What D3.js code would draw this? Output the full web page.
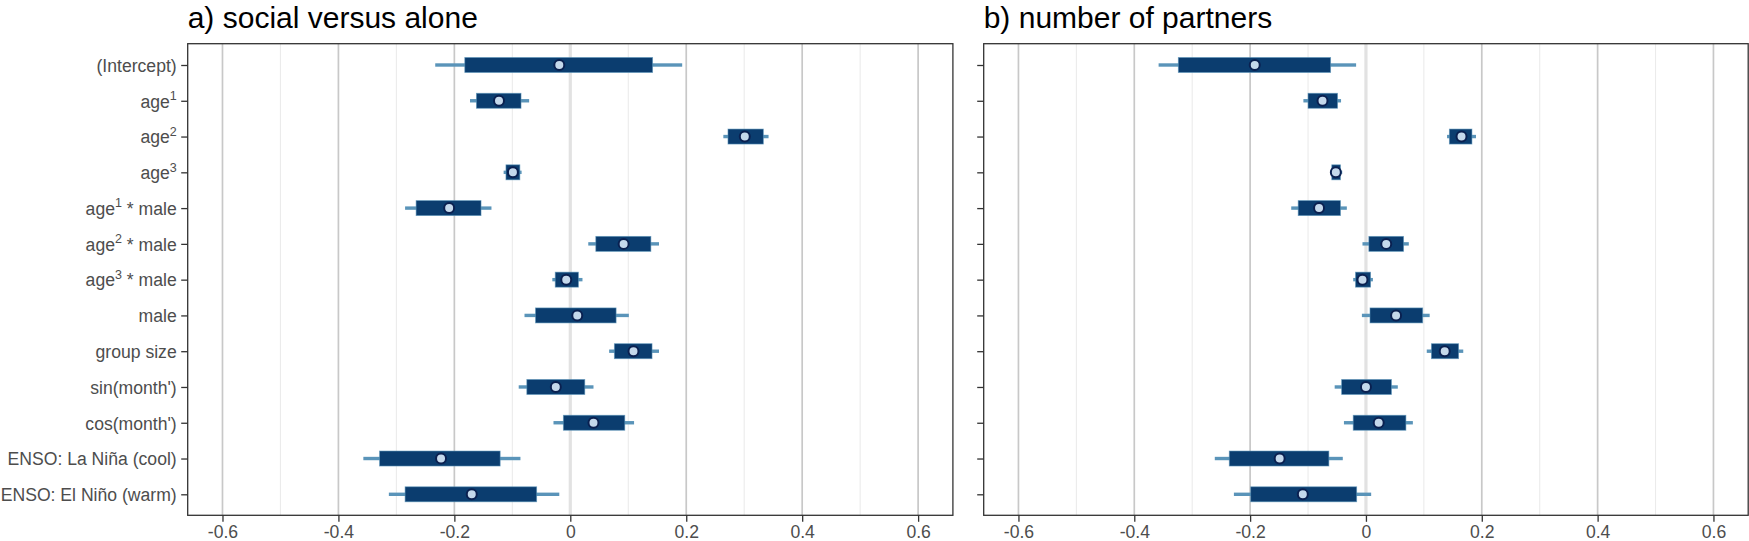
<!DOCTYPE html>
<html>
<head>
<meta charset="utf-8">
<script src="https://cdn.jsdelivr.net/npm/d3@7"></script>
<style>
  html, body { margin: 0; padding: 0; background: #fff; }
  svg { display: block; font-family: "Liberation Sans", Arial, Helvetica, sans-serif; }
</style>
</head>
<body>
<svg id="chart" width="1749" height="541"></svg>
<script>
// ---------- data ----------
const categories = ["(Intercept)", "age^1", "age^2", "age^3", "age^1 * male", "age^2 * male", "age^3 * male",
  "male", "group size", "sin(month')", "cos(month')", "ENSO: La Niña (cool)", "ENSO: El Niño (warm)"];

const panelTitles = ["a) social versus alone", "b) number of partners"];

// panel a: social versus alone
const aPoint   = [-0.019, -0.123, 0.301, -0.099, -0.209, 0.092, -0.007, 0.012, 0.109, -0.025, 0.040, -0.223, -0.170];
const aThickLo = [-0.182, -0.162, 0.272, -0.111, -0.266, 0.044, -0.026, -0.060, 0.076, -0.075, -0.012, -0.329, -0.285];
const aThickHi = [ 0.142, -0.085, 0.333, -0.087, -0.154, 0.139, 0.014, 0.079, 0.141, 0.025, 0.094, -0.121, -0.058];
const aThinLo  = [-0.233, -0.173, 0.264, -0.115, -0.285, 0.031, -0.031, -0.079, 0.067, -0.089, -0.029, -0.357, -0.313];
const aThinHi  = [ 0.193, -0.071, 0.342, -0.084, -0.136, 0.153, 0.021, 0.101, 0.153, 0.040, 0.110, -0.086, -0.019];

// panel b: number of partners
const bPoint   = [-0.192, -0.075, 0.165, -0.052, -0.081, 0.035, -0.006, 0.052, 0.136, 0.000, 0.022, -0.149, -0.109];
const bThickLo = [-0.324, -0.100, 0.144, -0.059, -0.117, 0.005, -0.018, 0.007, 0.113, -0.042, -0.022, -0.236, -0.199];
const bThickHi = [-0.061, -0.049, 0.183, -0.044, -0.044, 0.065, 0.008, 0.098, 0.160, 0.044, 0.069, -0.064, -0.016];
const bThinLo  = [-0.358, -0.108, 0.140, -0.062, -0.129, -0.006, -0.022, -0.007, 0.105, -0.054, -0.038, -0.261, -0.228];
const bThinHi  = [-0.017, -0.043, 0.190, -0.041, -0.033, 0.074, 0.012, 0.110, 0.168, 0.055, 0.081, -0.040, 0.009];

const xTicks = [-0.6, -0.4, -0.2, 0, 0.2, 0.4, 0.6];
const xMinor = [-0.5, -0.3, -0.1, 0.1, 0.3, 0.5];
const xDomain = [-0.66, 0.66];

// ---------- layout ----------
const svg = d3.select("#chart");
const plotTop = 43.7, plotBottom = 515.3;
const panels = [
  { left: 187.7, right: 952.9, showLabels: true,
    point: aPoint, thickLo: aThickLo, thickHi: aThickHi, thinLo: aThinLo, thinHi: aThinHi },
  { left: 983.7, right: 1748.2, showLabels: false,
    point: bPoint, thickLo: bThickLo, thickHi: bThickHi, thinLo: bThinLo, thinHi: bThinHi }
];

const C = {
  thick: "#0b3d6f", thickEdge: "#5b95bb", thin: "#5a94b9",
  ptFill: "#c4d8eb", ptStroke: "#0a2050",
  major: "#c8c8c8", minor: "#ebebeb", zero: "#e2e2e2",
  axis: "#333333", label: "#4d4d4d"
};

const y = d3.scalePoint().domain(categories).range([65, 494.3]);

function writeLabel(sel, s) {
  const m = s.match(/^(\w+)\^(\d)(.*)$/);
  if (!m) { sel.text(s); return; }
  sel.append("tspan").text(m[1]);
  sel.append("tspan").attr("dy", -7.5).attr("font-size", 12.5).text(m[2]);
  sel.append("tspan").attr("dy", 7.5).text(m[3]);
}

panels.forEach((p, pi) => {
  const x = d3.scaleLinear().domain(xDomain).range([p.left, p.right]);
  const g = svg.append("g");

  g.selectAll(".minor").data(xMinor).join("line")
    .attr("x1", d => x(d)).attr("x2", d => x(d)).attr("y1", plotTop).attr("y2", plotBottom)
    .attr("stroke", C.minor).attr("stroke-width", 1.1);
  g.selectAll(".major").data(xTicks).join("line")
    .attr("x1", d => x(d)).attr("x2", d => x(d)).attr("y1", plotTop).attr("y2", plotBottom)
    .attr("stroke", C.major).attr("stroke-width", 1.7);
  g.append("line")
    .attr("x1", x(0)).attr("x2", x(0)).attr("y1", plotTop).attr("y2", plotBottom)
    .attr("stroke", C.zero).attr("stroke-width", 3.2);

  const idx = d3.range(categories.length);
  g.selectAll(".thin").data(idx).join("rect")
    .attr("x", i => x(p.thinLo[i])).attr("width", i => x(p.thinHi[i]) - x(p.thinLo[i]))
    .attr("y", i => y(categories[i]) - 1.7).attr("height", 3.4)
    .attr("fill", C.thin);
  g.selectAll(".thick").data(idx).join("rect")
    .attr("x", i => x(p.thickLo[i])).attr("width", i => x(p.thickHi[i]) - x(p.thickLo[i]))
    .attr("y", i => y(categories[i]) - 7.5).attr("height", 15)
    .attr("fill", C.thick).attr("stroke", C.thickEdge).attr("stroke-width", 0.8).attr("stroke-opacity", 0.7);
  g.selectAll(".pt").data(idx).join("circle")
    .attr("cx", i => x(p.point[i])).attr("cy", i => y(categories[i])).attr("r", 5)
    .attr("fill", C.ptFill).attr("stroke", C.ptStroke).attr("stroke-width", 2);

  g.append("rect").attr("x", p.left).attr("y", plotTop)
    .attr("width", p.right - p.left).attr("height", plotBottom - plotTop)
    .attr("fill", "none").attr("stroke", C.axis).attr("stroke-width", 1.3);

  const xa = g.append("g").attr("transform", `translate(0,${plotBottom})`)
    .call(d3.axisBottom(x).tickValues(xTicks).tickSize(6.5).tickPadding(4)
      .tickFormat(d => d === 0 ? "0" : String(d)));
  xa.select(".domain").remove();
  xa.selectAll(".tick line").attr("stroke", C.axis).attr("stroke-width", 1.3);
  xa.selectAll(".tick text").attr("fill", C.label).attr("font-size", 17.6)
    .attr("font-family", "Liberation Sans, Arial, sans-serif").attr("dy", "0.72em");

  const ya = g.append("g").attr("transform", `translate(${p.left},0)`)
    .call(d3.axisLeft(y).tickSize(6.5).tickPadding(4.5).tickFormat(""));
  ya.select(".domain").remove();
  ya.selectAll(".tick line").attr("stroke", C.axis).attr("stroke-width", 1.3);
  ya.selectAll(".tick text").remove();
  if (p.showLabels) {
    ya.selectAll(".tick").each(function(d) {
      const t = d3.select(this).append("text")
        .attr("x", -11).attr("dy", "0.36em")
        .attr("text-anchor", "end").attr("fill", C.label)
        .attr("font-size", 17.6);
      writeLabel(t, d);
    });
  }

  svg.append("text").attr("x", p.left).attr("y", 28)
    .attr("font-size", 30).attr("fill", "#000").text(panelTitles[pi]);
});
</script>
</body>
</html>
